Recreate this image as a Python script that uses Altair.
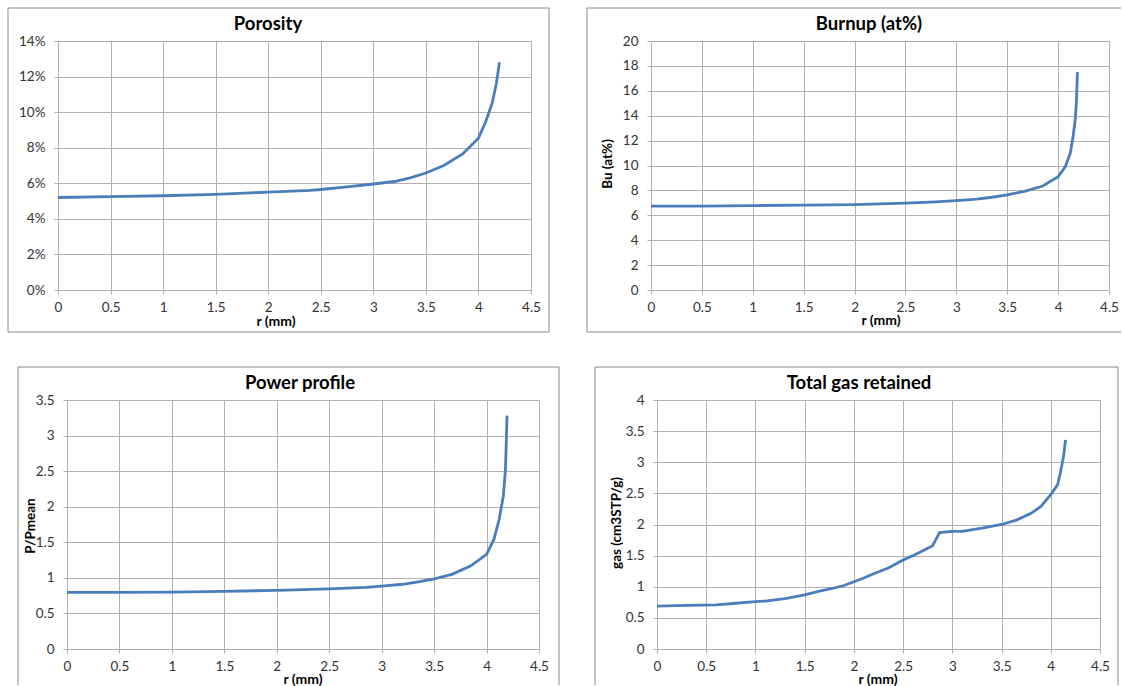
import altair as alt
import pandas as pd

# ---------------- data ----------------
r_ticks = [0, 0.5, 1, 1.5, 2, 2.5, 3, 3.5, 4, 4.5]

por_ticks = [0, 0.02, 0.04, 0.06, 0.08, 0.10, 0.12, 0.14]
por_r = [0, 0.5, 1.0, 1.5, 2.0, 2.4, 2.5, 2.75, 3.0, 3.2, 3.35, 3.5, 3.67, 3.85, 4.0, 4.07, 4.13, 4.17, 4.2]
por_v = [0.052, 0.0525, 0.053, 0.0538, 0.055, 0.056, 0.0565, 0.058, 0.0596, 0.061, 0.063, 0.0658,
         0.070, 0.0765, 0.0853, 0.0947, 0.105, 0.116, 0.128]

bu_ticks = [0, 2, 4, 6, 8, 10, 12, 14, 16, 18, 20]
bu_r = [0, 0.5, 1.0, 1.5, 2.0, 2.5, 2.8, 3.0, 3.2, 3.35, 3.5, 3.67, 3.85, 4.0, 4.07, 4.12, 4.15, 4.17, 4.18, 4.19]
bu_v = [6.73, 6.74, 6.78, 6.82, 6.86, 6.98, 7.08, 7.18, 7.3, 7.45, 7.65, 7.92, 8.35, 9.1, 9.9, 11.0,
        12.5, 13.8, 15.2, 17.5]

pw_ticks = [0, 0.5, 1, 1.5, 2, 2.5, 3, 3.5]
pw_r = [0, 0.5, 1.0, 1.5, 2.0, 2.5, 2.85, 3.0, 3.2, 3.35, 3.5, 3.67, 3.85, 4.0, 4.07, 4.12, 4.16, 4.18, 4.19, 4.195]
pw_v = [0.795, 0.795, 0.80, 0.81, 0.825, 0.845, 0.865, 0.885, 0.91, 0.945, 0.985, 1.05, 1.17, 1.33,
        1.54, 1.82, 2.15, 2.52, 3.0, 3.28]

gas_ticks = [0, 0.5, 1, 1.5, 2, 2.5, 3, 3.5, 4]
gas_r = [0, 0.3, 0.6, 0.8, 1.0, 1.1, 1.3, 1.5, 1.65, 1.8, 1.9, 2.0, 2.1, 2.2, 2.35, 2.5, 2.6, 2.7, 2.8,
         2.87, 3.0, 3.1, 3.3, 3.5, 3.65, 3.8, 3.9, 4.0, 4.07, 4.1, 4.13, 4.15]
gas_v = [0.69, 0.70, 0.71, 0.735, 0.76, 0.77, 0.81, 0.87, 0.93, 0.98, 1.02, 1.08, 1.14, 1.21, 1.30,
         1.43, 1.50, 1.58, 1.66, 1.87, 1.89, 1.89, 1.94, 2.0, 2.07, 2.18, 2.29, 2.48, 2.64, 2.85, 3.1, 3.36]

titles = ["Porosity", "Burnup (at%)", "Power profile", "Total gas retained"]
y_titles = ["", "Bu (at%)", "P/Pmean", "gas (cm3STP/g)"]
x_title = "r (mm)"

# ---------------- style ----------------
FONT = "Lato"
LINE_COLOR = "#4a7ebb"
GRID = "#b0b0b0"
BORDER = "#8a8a8a"
LABEL = "#333333"


def rule(x1, y1, x2=None, y2=None):
    enc = {"x": alt.value(x1), "y": alt.value(y1)}
    if x2 is not None:
        enc["x2"] = alt.value(x2)
    if y2 is not None:
        enc["y2"] = alt.value(y2)
    return alt.Chart(pd.DataFrame({"k": [0]})).mark_rule(color=BORDER, strokeWidth=1).encode(**enc)


def text(t, x, y, size, angle=0):
    return alt.Chart(pd.DataFrame({"t": [t]})).mark_text(
        font=FONT, fontSize=size, fontWeight="bold", color="#000000",
        align="center", baseline="middle", angle=angle
    ).encode(x=alt.value(x), y=alt.value(y), text="t:N")


def panel(r, v, yticks, yfmt, w, h, borders, title, tpos, xtpos, ytitle="", ytpos=None):
    df = pd.DataFrame({"r": r, "v": v})
    line = alt.Chart(df).mark_line(color=LINE_COLOR, strokeWidth=2.8).encode(
        x=alt.X("r:Q", scale=alt.Scale(domain=[0, 4.5], nice=False, zero=False),
                axis=alt.Axis(values=r_ticks, format="~g", title=None)),
        y=alt.Y("v:Q", scale=alt.Scale(domain=[yticks[0], yticks[-1]], nice=False, zero=False),
                axis=alt.Axis(values=yticks, format=yfmt, title=None)),
    )
    layers = borders + [line, text(title, tpos[0], tpos[1], 18.5), text(x_title, xtpos[0], h + xtpos[1], 14)]
    if ytitle:
        layers.append(text(ytitle, ytpos[0], ytpos[1], 13.5, angle=270))
    return alt.layer(*layers).properties(width=w, height=h)


# Porosity: plot origin (57, 40)
p1 = panel(por_r, por_v, por_ticks, ".0%", 473, 249,
           [rule(-50, -33, 491), rule(-50, 291, 491), rule(-50, -33, None, 291), rule(491, -33, None, 291)],
           titles[0], (210, -17), (218, 32))
# Burnup: plot origin (650, 40)
p2 = panel(bu_r, bu_v, bu_ticks, "~g", 458, 249,
           [rule(-64, -33, 470), rule(-64, 291, 470), rule(-64, -33, None, 291)],
           titles[1], (218, -17), (230, 31), y_titles[1], (-43, 123))
# Power: plot origin (66, 399)
p3 = panel(pw_r, pw_v, pw_ticks, "~g", 472, 249,
           [rule(-49, -33, 492), rule(-49, -33, None, 285), rule(492, -33, None, 285)],
           titles[2], (233, -17), (236, 31), y_titles[2], (-36, 126))
# Gas: plot origin (656, 399)
p4 = panel(gas_r, gas_v, gas_ticks, "~g", 443, 249,
           [rule(-62, -33, 461), rule(-62, -33, None, 285), rule(461, -33, None, 285)],
           titles[3], (202, -17), (221, 31), y_titles[3], (-40, 123))

spacer = alt.Chart(pd.DataFrame({"k": [0]})).mark_rule(strokeWidth=0, opacity=0).encode(
    x=alt.value(0), y=alt.value(0), y2=alt.value(1)
).properties(width=1, height=1)

row1 = alt.hconcat(p1, p2, spacing=36)
row2 = alt.hconcat(spacer, alt.hconcat(p3, p4, spacing=34), spacing=-42)

chart = alt.vconcat(row1, row2, spacing=33).properties(
    padding={"left": 7, "top": 7, "right": 0, "bottom": 0},
    background="white",
).configure_view(strokeWidth=0).configure_axis(
    grid=True, gridColor=GRID, gridWidth=1,
    domainColor=GRID, domainWidth=1,
    tickColor=GRID, tickSize=4, tickWidth=1,
    labelFont=FONT, labelFontSize=13.5, labelColor=LABEL,
    labelFlush=False, labelOverlap=False,
).configure_axisX(labelPadding=6).configure_axisY(labelPadding=9)

chart.save("out.html", embed_options={"renderer": "svg", "actions": False})
